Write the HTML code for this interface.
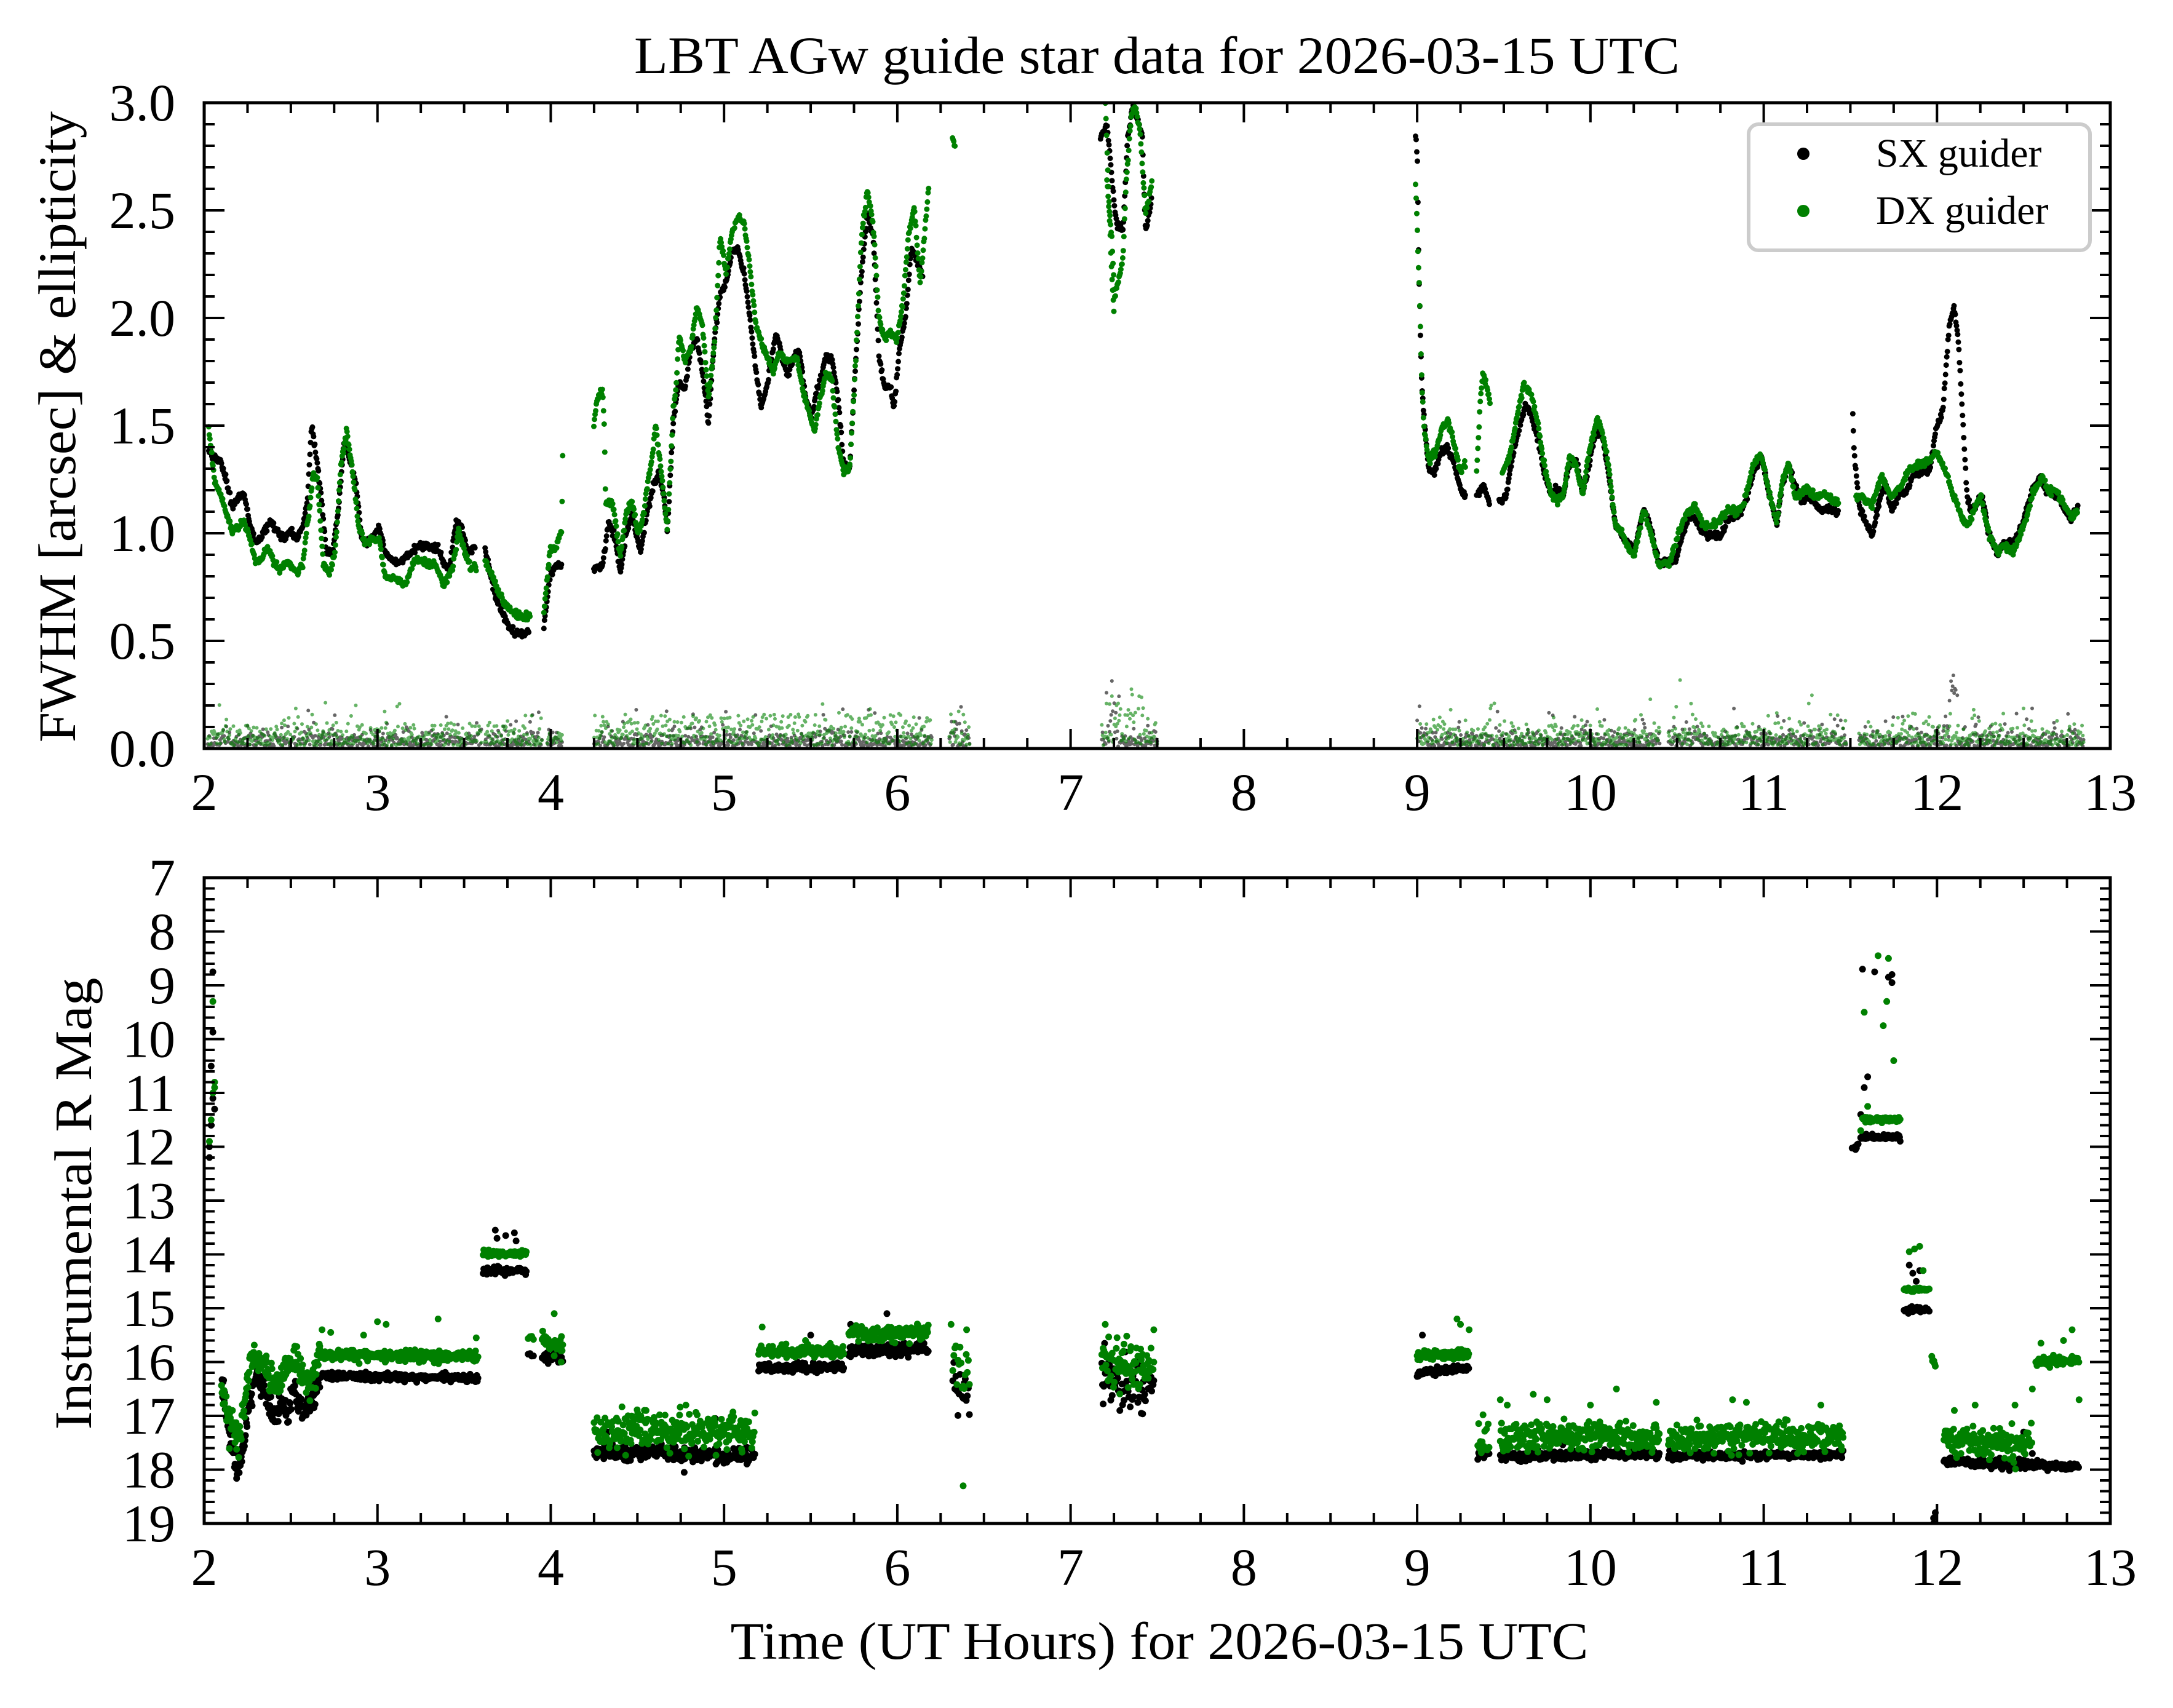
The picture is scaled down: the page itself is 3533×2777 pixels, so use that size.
<!DOCTYPE html>
<html><head><meta charset="utf-8"><style>
html,body{margin:0;padding:0;background:#fff;}
svg{display:block;font-family:"Liberation Serif",serif;}
</style></head><body>
<svg id="s" xmlns="http://www.w3.org/2000/svg" width="3533" height="2777" viewBox="0 0 3533 2777">
<rect width="3533" height="2777" fill="#fff"/>
<defs>
<clipPath id="c1"><rect x="332" y="167" width="3099" height="1050"/></clipPath>
<clipPath id="c2"><rect x="332" y="1427" width="3099" height="1050"/></clipPath>
</defs>
<g id="data"></g>
<g id="axes"></g>
<text x="1881" y="119" font-size="86" text-anchor="middle" textLength="1700" lengthAdjust="spacingAndGlyphs">LBT AGw guide star data for 2026-03-15 UTC</text>
<text x="1885" y="2697" font-size="86" text-anchor="middle" textLength="1395" lengthAdjust="spacingAndGlyphs">Time (UT Hours) for 2026-03-15 UTC</text>
<text transform="translate(122,694) rotate(-90)" font-size="86" text-anchor="middle" textLength="1026" lengthAdjust="spacingAndGlyphs">FWHM [arcsec] &amp; ellipticity</text>
<text transform="translate(148,1957) rotate(-90)" font-size="86" text-anchor="middle" textLength="735" lengthAdjust="spacingAndGlyphs">Instrumental R Mag</text>
<g>
<rect x="2843" y="202" width="555" height="205" rx="16" ry="16" fill="#fff" fill-opacity="0.8" stroke="#cccccc" stroke-width="6"/>
<circle cx="2932" cy="250" r="10" fill="#000"/>
<circle cx="2932" cy="343" r="10" fill="#008000"/>
<text x="3050" y="271" font-size="66">SX guider</text>
<text x="3050" y="364" font-size="66">DX guider</text>
</g>
</svg>
<script>
(function(){
var NS="http://www.w3.org/2000/svg";
var seed=12345;function rnd(){seed=(seed*1103515245+12345)%2147483648;return seed/2147483648;}
function gauss(){var u=rnd()||1e-9,v=rnd();return Math.sqrt(-2*Math.log(u))*Math.cos(2*Math.PI*v);}
function X(h){return 332+(h-2)*281.73;}
function YT(v){return 1217-v*350;}
function YB(m){return 1427+(m-7)*87.5;}
function z6h(zx){return 3+(zx-297)/294.7;}
function z7h(zx){return 8+(zx-213)/269.5;}
function zv(zy){return (1564-zy)/518;}
function mk(tag,attrs,parent){var e=document.createElementNS(NS,tag);for(var k in attrs)e.setAttribute(k,attrs[k]);parent.appendChild(e);return e;}
var data=document.getElementById('data'),axes=document.getElementById('axes');
var g1=mk('g',{'clip-path':'url(#c1)'},data),g2=mk('g',{'clip-path':'url(#c2)'},data);
function dotsPath(pts,col,w,op,parent){var d=[];for(var i=0;i<pts.length;i++){d.push('M'+pts[i][0].toFixed(1)+' '+pts[i][1].toFixed(1)+'h0');}
mk('path',{d:d.join(''),stroke:col,'stroke-width':w,'stroke-linecap':'round',fill:'none','stroke-opacity':op},parent);}
function interp(seg,h){for(var i=0;i<seg.length-1;i++){if(h>=seg[i][0]&&h<=seg[i+1][0]){var t=(h-seg[i][0])/(seg[i+1][0]-seg[i][0]||1);return seg[i][1]+t*(seg[i+1][1]-seg[i][1]);}}return null;}
function conv(arr,fh){var o=[];for(var i=0;i<arr.length;i+=2)o.push([fh(arr[i]),zv(arr[i+1])]);return o;}
var SX=[
conv([10,850,20,865,30,870,40,920,50,985,60,960,70,950,80,1020,90,1070,100,1050,115,1020,125,1040,135,1055,150,1045,160,1060,170,1030,178,960,185,790,190,830,200,940,210,1090,220,1095,230,1000,240,830,250,870,260,920,270,1060,280,1070,290,1050,300,1030,310,1090,320,1110,330,1120,340,1110,350,1100,360,1085,370,1075,385,1080,400,1085,410,1120,420,1130,430,1020,440,1025,450,1090,463,1075],z6h),
conv([480,1085,500,1210,510,1240,520,1270,530,1285,545,1290,555,1280],z6h),
conv([580,1270,590,1150,600,1125,610,1130],z6h),
conv([665,1135,680,1120,690,1020,700,1050,710,1140,720,1050,730,1000,740,1070,745,1090,755,1000,765,940,775,900,785,960,790,1040,800,780,810,680,820,700,830,600,840,580,850,660,860,780,870,580,880,470,890,440,900,370,910,360,920,420,930,520,940,650,950,740,960,690,970,600,975,565,985,620,995,670,1005,620,1015,610,1025,720,1035,770,1045,700,1060,620,1070,630,1080,720,1090,880,1100,890,1110,640,1120,420,1130,280,1140,330,1150,620,1160,700,1170,690,1175,750,1185,600,1195,530,1205,360,1215,390,1225,430],z6h),
conv([-10,100,0,60,10,230,15,300,25,320,32,100,40,20,50,60,55,90,60,320,70,240],z7h),
conv([480,80,483,150,485,400,488,600,490,700,495,800,500,890,510,900,520,850,530,840,540,880,550,940,558,955],z7h),
conv([575,955,585,930,595,970],z7h),
conv([610,965,620,960,630,870,640,800,650,740,660,760,670,820,680,900,690,950,700,940,710,945,720,880,730,870,740,950,750,880,760,800,770,810,780,900,790,1020,800,1050,810,1070,820,1090,835,985,845,1030,858,1115,870,1115,885,1110,895,1050,905,1010,915,1010,925,1040,935,1050,945,1050,955,1055,965,1010,975,1010,985,1000,995,960,1005,900,1018,860,1030,950,1042,1025,1050,930,1060,880,1070,930,1080,970,1090,960,1100,970,1110,990,1125,990,1138,1000],z7h),
conv([1160,760,1162,850,1170,980,1180,1020,1190,1050,1200,980,1210,920,1220,990,1230,960,1245,940,1255,900,1270,900,1280,890,1290,790,1300,750,1310,550,1318,500,1325,600,1332,800,1338,960,1345,990,1355,970,1362,960,1370,1040,1385,1095,1395,1070,1410,1070,1420,1040,1430,990,1440,940,1452,910,1460,940,1470,950,1480,960,1490,990,1500,1010,1510,985],z7h)
];
var DX=[
conv([10,790,20,920,30,950,40,1000,50,1040,60,1030,70,1020,80,1060,90,1120,100,1110,110,1080,120,1110,130,1135,145,1115,160,1140,170,1120,180,1000,188,900,195,920,205,1120,215,1145,225,1090,235,880,245,800,255,900,265,1030,275,1070,290,1060,300,1060,310,1150,320,1155,335,1160,345,1170,360,1110,370,1110,380,1120,395,1120,410,1170,425,1130,435,1040,445,1090,455,1130,465,1125],z6h),
conv([480,1110,495,1160,510,1210,525,1230,540,1250,557,1245],z6h),
conv([580,1235,590,1090,600,1080,610,1040,611,955,612,860,613,800],z6h),
conv([665,790,670,720,680,705,683,800,684,890,685,970,695,970,700,1000,710,1100,720,1000,730,970,740,1050,750,1000,755,940,765,850,770,790,780,900,790,1040,800,750,805,690,810,570,820,630,830,600,840,500,850,550,860,720,870,590,880,330,890,420,900,320,910,285,920,295,930,400,940,540,950,590,960,620,970,660,980,610,990,630,1000,630,1010,620,1020,700,1030,750,1040,800,1050,720,1060,660,1070,680,1080,830,1090,900,1100,890,1110,640,1120,340,1130,220,1140,300,1150,530,1160,580,1170,560,1180,580,1190,500,1200,330,1210,260,1220,450,1235,200],z6h),
conv([1275,90,1280,120],z6h),
conv([1535,10,1540,200,1545,400,1550,520],z6h),
conv([0,200,8,350,12,480,20,420,25,380,30,200,38,40,45,20,52,90,60,280,70,200],z7h),
conv([480,210,482,280,484,370,486,460,490,700,493,790,500,870,510,860,520,800,530,770,540,830,550,900,558,880],z7h),
conv([575,900,580,740,585,660,592,700,596,740],z7h),
conv([615,900,625,870,635,790,648,690,660,710,670,780,680,880,690,950,700,970,710,950,720,860,730,880,740,950,750,850,762,770,770,800,780,880,790,1020,800,1040,810,1080,820,1100,835,990,845,1040,858,1120,875,1120,890,1040,900,1000,915,980,925,1020,935,1030,950,1020,965,990,980,990,990,980,1005,880,1018,855,1030,950,1042,1020,1050,920,1060,880,1070,960,1080,950,1090,940,1100,960,1115,950,1130,970,1138,970],z7h),
conv([1165,960,1175,960,1190,980,1205,910,1220,960,1235,930,1250,890,1265,880,1280,870,1290,850,1305,900,1318,960,1330,1010,1340,1030,1350,980,1360,960,1370,1040,1385,1090,1395,1075,1410,1090,1420,1050,1430,1010,1440,950,1455,910,1465,950,1475,940,1485,965,1500,1010,1510,990],z7h)
];
function curvePts(segs,step,jit){var out=[];segs.forEach(function(seg){if(seg.length==1){out.push([X(seg[0][0]),YT(seg[0][1])]);return;}
var h0=seg[0][0],h1=seg[seg.length-1][0];for(var h=h0;h<=h1+1e-9;h+=step){var v=interp(seg,h);if(v===null)continue;v+=gauss()*jit;out.push([X(h),YT(v)]);}});return out;}
var ellRanges=[[2.02,3.6],[3.62,3.95],[3.98,4.07],[4.25,6.2],[6.3,6.42],[7.18,7.5],[9.0,10.4],[10.45,11.48],[11.55,12.85]];
function ellPts(off,scale,specials){var out=[];ellRanges.forEach(function(r){for(var h=r[0];h<=r[1];h+=0.0045){var v=Math.abs(gauss())*scale+off;if(rnd()<0.05)v+=rnd()*0.14;
for(var k=0;k<specials.length;k++){var s=specials[k];if(h>=s[0]&&h<=s[1]&&rnd()<0.5)v=s[2]+rnd()*s[3];}
out.push([X(h),YT(v)]);}});return out;}
dotsPath(ellPts(0.01,0.035,[[6.33,6.4,0.05,0.15],[7.2,7.28,0.05,0.28],[12.05,12.12,0.2,0.15]]),'#000',6,0.6,g1);
dotsPath(ellPts(0.015,0.05,[[4.25,6.2,0.02,0.14],[9.4,9.45,0.05,0.2],[7.2,7.45,0.03,0.25]]),'#008000',6,0.6,g1);
dotsPath(curvePts(SX,0.0035,0.008),'#000',9,1,g1);
dotsPath(curvePts(DX,0.0035,0.008),'#008000',9,1,g1);
function band(h0,h1,m0,m1,sig,step){var o=[];step=step||0.0035;for(var h=h0;h<=h1;h+=step){var t=(h-h0)/(h1-h0||1);o.push([X(h),YB(m0+t*(m1-m0)+gauss()*sig)]);}return o;}
function pts(arr){var o=[];for(var i=0;i<arr.length;i+=2)o.push([X(arr[i]),YB(arr[i+1])]);return o;}
var sxB=[],dxB=[];
function add(a,b){for(var i=0;i<b.length;i++)a.push(b[i]);}
var sxStart=[[2.1,16.3],[2.14,17.3],[2.19,18.0],[2.22,17.8],[2.25,17.0],[2.29,16.3],[2.31,16.25],[2.34,16.5],[2.38,16.8],[2.41,17.0],[2.45,16.7],[2.48,17.0],[2.52,16.5],[2.55,16.8],[2.58,17.0],[2.62,16.7],[2.67,16.25]];
var dxStart=[[2.1,16.5],[2.15,17.1],[2.2,17.5],[2.23,16.8],[2.27,16.0],[2.31,15.9],[2.36,16.2],[2.41,16.5],[2.46,16.2],[2.52,15.95],[2.57,16.3],[2.62,16.3],[2.67,15.95]];
for(var h=2.1;h<=2.67;h+=0.003){sxB.push([X(h),YB(interp(sxStart,h)+gauss()*0.12)]);dxB.push([X(h),YB(interp(dxStart,h)+gauss()*0.15)]);}
add(sxB,pts([2.05,8.75,2.05,9.87,2.04,10.5,2.05,11.1,2.04,11.6,2.03,12.0,2.03,12.2,2.06,11.3]));
add(dxB,pts([2.05,9.3,2.06,10.8,2.05,11.0,2.04,11.5,2.03,11.9,2.06,10.9]));
add(sxB,band(2.67,3.58,16.25,16.3,0.035));add(dxB,band(2.67,3.58,15.88,15.9,0.05));
add(dxB,pts([2.68,15.4,2.73,15.45,2.92,15.5,3.0,15.25,3.05,15.3,3.35,15.2,3.57,15.55]));
add(sxB,band(3.61,3.86,14.3,14.3,0.03));add(dxB,band(3.61,3.86,13.98,13.98,0.03));
add(sxB,pts([3.68,13.55,3.69,13.7,3.74,13.65,3.79,13.6,3.8,13.75]));
add(sxB,band(3.87,3.9,15.85,15.85,0.03,0.01));add(dxB,band(3.87,3.9,15.55,15.55,0.04,0.01));
add(sxB,band(3.95,4.07,15.9,15.95,0.05));add(dxB,band(3.95,4.07,15.6,15.7,0.1));add(dxB,pts([4.02,15.1,4.06,16.0]));
add(sxB,band(4.25,5.18,17.65,17.75,0.06));add(dxB,band(4.25,5.18,17.25,17.3,0.17));add(dxB,pts([4.55,16.9,4.78,16.8,4.93,17.1]));add(sxB,pts([4.33,17.3,4.77,18.05,4.95,17.05]));
add(sxB,band(5.2,5.69,16.1,16.1,0.04));add(dxB,band(5.2,5.69,15.8,15.8,0.06));add(dxB,pts([5.22,15.35,5.47,15.6]));add(sxB,pts([5.5,15.5,5.45,15.75]));
add(sxB,band(5.72,6.18,15.8,15.75,0.06));add(dxB,band(5.72,6.18,15.5,15.45,0.07));add(sxB,pts([5.73,15.3,5.94,15.1]));
add(sxB,band(6.32,6.42,16.4,16.6,0.2,0.006));add(dxB,band(6.32,6.42,16.1,16.3,0.25,0.006));add(dxB,pts([6.31,15.3,6.38,18.3,6.4,15.4]));
add(sxB,band(7.18,7.48,16.3,16.4,0.3,0.004));add(dxB,band(7.18,7.48,16.0,16.1,0.25,0.004));add(dxB,pts([7.2,15.3,7.48,15.4]));
add(sxB,band(9.0,9.3,16.2,16.1,0.03));add(dxB,band(9.0,9.3,15.9,15.85,0.05));add(dxB,pts([9.23,15.2,9.25,15.3,9.3,15.4]));add(sxB,pts([9.03,15.5]));
add(sxB,band(9.35,9.42,17.75,17.7,0.03,0.005));add(dxB,band(9.35,9.42,17.35,17.35,0.25,0.005));
add(sxB,band(9.48,10.4,17.75,17.7,0.04));add(dxB,band(9.48,10.4,17.4,17.35,0.13));add(dxB,pts([9.48,16.7,9.52,16.8,9.67,16.6,9.75,16.7,10.0,16.8,10.15,16.5,10.38,16.75]));
add(sxB,band(10.45,11.46,17.75,17.72,0.035));add(dxB,band(10.45,11.46,17.4,17.38,0.12));add(dxB,pts([10.82,16.7,10.9,16.75,11.33,16.8]));
add(sxB,band(11.51,11.55,12.05,11.95,0.03,0.005));add(sxB,band(11.56,11.79,11.82,11.82,0.03));add(dxB,band(11.57,11.79,11.5,11.5,0.03));
add(sxB,pts([11.57,8.7,11.64,8.75,11.72,8.85,11.74,8.8,11.74,8.95,11.6,10.7,11.58,10.9,11.56,11.4]));
add(dxB,pts([11.66,8.45,11.72,8.5,11.58,9.5,11.69,9.75,11.71,9.3,11.75,10.4,11.6,11.25,11.56,11.7]));
add(sxB,band(11.81,11.96,15.02,15.02,0.03,0.005));add(dxB,band(11.81,11.96,14.65,14.65,0.03,0.005));
add(sxB,pts([11.84,14.2,11.86,14.35,11.88,14.5,11.9,14.3]));add(dxB,pts([11.84,13.95,11.87,13.9,11.9,13.85,11.92,14.3]));
add(dxB,band(11.97,11.99,15.95,16.05,0.04,0.004));add(sxB,pts([11.98,18.9,11.98,19.0,11.99,18.8]));
add(sxB,band(12.04,12.82,17.85,17.95,0.04));add(dxB,band(12.04,12.55,17.45,17.5,0.13));add(dxB,pts([12.1,16.9,12.22,16.8,12.45,16.8]));add(sxB,pts([12.5,17.3,12.55,17.7]));
add(dxB,band(12.57,12.82,16.0,15.95,0.04));add(dxB,pts([12.55,16.5,12.6,15.65,12.73,15.6,12.78,15.4,12.82,16.7]));
dotsPath(sxB,'#000',11,1,g2);dotsPath(dxB,'#008000',11,1,g2);
function line(x1,y1,x2,y2,w){mk('line',{x1:x1,y1:y1,x2:x2,y2:y2,stroke:'#000','stroke-width':w},axes);}
function text(x,y,s,anchor){var t=mk('text',{x:x,y:y,'font-size':86,'text-anchor':anchor},axes);t.textContent=s;}
var L=332,R=3431;
[[167,1217],[1427,2477]].forEach(function(p,idx){var T=p[0],B=p[1];
mk('rect',{x:L,y:T,width:R-L,height:B-T,fill:'none',stroke:'#000','stroke-width':5},axes);
for(var q=0;q<=44;q++){var h=2+q*0.25,x=X(h),len=(q%4==0)?32:17;line(x,B,x,B-len,4);line(x,T,x,T+len,4);}
for(var hh=2;hh<=13;hh++){text(X(hh),B+100,String(hh),'middle');}
if(idx==0){for(var k=0;k<=30;k++){var v=k*0.1,y=YT(v),len=(k%5==0)?33:17;line(L,y,L+len,y,4);line(R,y,R-len,y,4);}
for(var k=0;k<=6;k++){text(285,YT(k*0.5)+29,(k*0.5).toFixed(1),'end');}}
else{for(var k=0;k<=60;k++){var m=7+k*0.2,y=YB(m),len=(k%5==0)?33:17;line(L,y,L+len,y,4);line(R,y,R-len,y,4);}
for(var m=7;m<=19;m++){text(285,YB(m)+29,String(m),'end');}}
});
})();
</script>
</body></html>
